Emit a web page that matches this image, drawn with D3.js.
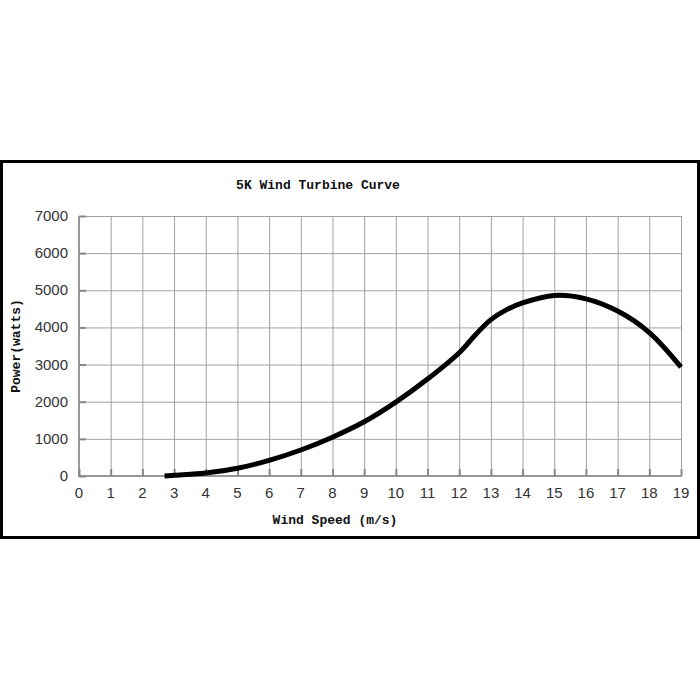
<!DOCTYPE html>
<html>
<head>
<meta charset="utf-8">
<script src="https://cdn.jsdelivr.net/npm/d3@7"></script>
<style>
  html, body { margin: 0; padding: 0; background: #fff; }
  svg { display: block; }
</style>
</head>
<body>
<svg id="chart" width="700" height="700"></svg>
<script>
// ---- data ----
const windSpeed = [2.7, 3, 4, 5, 6, 7, 8, 9, 10, 11, 12, 12.5, 13, 13.5, 14, 15, 16, 17, 18, 19];
const power     = [0, 20, 80, 210, 420, 700, 1045, 1460, 1990, 2610, 3320, 3790, 4210, 4480, 4660, 4860, 4770, 4440, 3860, 2930];
const xTicks = d3.range(0, 20);
const yTicks = [0, 1000, 2000, 3000, 4000, 5000, 6000, 7000];
const titleText = "5K Wind Turbine Curve";
const xLabel = "Wind Speed (m/s)";
const yLabel = "Power(watts)";

// ---- layout ----
const svg = d3.select("#chart");
svg.append("rect").attr("width", 700).attr("height", 700).attr("fill", "#fff");
svg.append("rect")
  .attr("x", 1.5).attr("y", 161.5).attr("width", 697).attr("height", 376)
  .attr("fill", "none").attr("stroke", "#000").attr("stroke-width", 3);

const x = d3.scaleLinear().domain([0, 19]).range([79, 681]);
const y = d3.scaleLinear().domain([0, 7000]).range([476, 216]);

// grid
const g = svg.append("g");
g.selectAll(".vgrid").data(xTicks.slice(1)).enter().append("line")
  .attr("x1", d => x(d) + 0.5).attr("x2", d => x(d) + 0.5)
  .attr("y1", y(7000)).attr("y2", y(0))
  .attr("stroke", "#a0a0a0").attr("stroke-width", 1);
g.selectAll(".hgrid").data(yTicks.slice(1)).enter().append("line")
  .attr("x1", x(0)).attr("x2", x(19))
  .attr("y1", d => y(d) + 0.5).attr("y2", d => y(d) + 0.5)
  .attr("stroke", "#a0a0a0").attr("stroke-width", 1);

// axes lines
g.append("line").attr("x1", x(0)).attr("x2", x(0)).attr("y1", y(7000)).attr("y2", y(0) + 1)
  .attr("stroke", "#999").attr("stroke-width", 2);
g.append("line").attr("x1", x(0)).attr("x2", x(19) + 1).attr("y1", y(0)).attr("y2", y(0))
  .attr("stroke", "#999").attr("stroke-width", 2);

// tick marks (inside)
g.selectAll(".xt").data(xTicks).enter().append("line")
  .attr("x1", d => x(d) + 0.5).attr("x2", d => x(d) + 0.5)
  .attr("y1", y(0)).attr("y2", y(0) - 7)
  .attr("stroke", "#888").attr("stroke-width", 2);
g.selectAll(".yt").data(yTicks).enter().append("line")
  .attr("x1", x(0)).attr("x2", x(0) + 7)
  .attr("y1", d => y(d) + 0.5).attr("y2", d => y(d) + 0.5)
  .attr("stroke", "#888").attr("stroke-width", 2);

// tick labels
svg.selectAll(".xl").data(xTicks).enter().append("text")
  .attr("x", d => x(d)).attr("y", 498)
  .attr("text-anchor", "middle")
  .attr("font-family", "Liberation Sans, Arial, sans-serif")
  .attr("font-size", 15).attr("fill", "#333")
  .text(d => d);
svg.selectAll(".yl").data(yTicks).enter().append("text")
  .attr("x", 68).attr("y", d => y(d) + 5)
  .attr("text-anchor", "end")
  .attr("font-family", "Liberation Sans, Arial, sans-serif")
  .attr("font-size", 15).attr("fill", "#333")
  .text(d => d);

// titles
svg.append("text").attr("x", 318).attr("y", 189).attr("text-anchor", "middle")
  .attr("font-family", "Liberation Mono, DejaVu Sans Mono, monospace")
  .attr("font-weight", "bold").attr("font-size", 13).attr("fill", "#111")
  .text(titleText);
svg.append("text").attr("x", 335).attr("y", 524).attr("text-anchor", "middle")
  .attr("font-family", "Liberation Mono, DejaVu Sans Mono, monospace")
  .attr("font-weight", "bold").attr("font-size", 13).attr("fill", "#111")
  .text(xLabel);
svg.append("text")
  .attr("transform", "translate(20,346) rotate(-90)")
  .attr("text-anchor", "middle")
  .attr("font-family", "Liberation Mono, DejaVu Sans Mono, monospace")
  .attr("font-weight", "bold").attr("font-size", 13).attr("fill", "#111")
  .text(yLabel);

// curve
const pts = windSpeed.map((w, i) => [w, power[i]]);
const line = d3.line().x(d => x(d[0])).y(d => y(d[1])).curve(d3.curveCatmullRom.alpha(0.5));
svg.append("path").attr("d", line(pts))
  .attr("fill", "none").attr("stroke", "#000").attr("stroke-width", 5)
  .attr("stroke-linejoin", "round");
</script>
</body>
</html>
